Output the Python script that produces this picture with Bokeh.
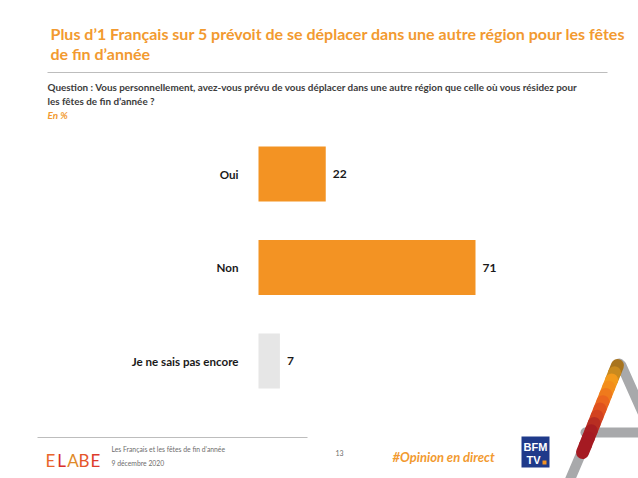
from bokeh.plotting import figure
from bokeh.models import Range1d, ColumnDataSource
from bokeh.core.properties import value
from bokeh.embed import file_html
from bokeh.resources import INLINE

# ---- data ----
categories = ["Oui", "Non", "Je ne sais pas encore"]
values = [22, 71, 7]
bar_colors = ["#F39323", "#F39323", "#E6E6E6"]
value_labels = ["22", "71", "7"]

title_lines = ["Plus d\u20191 Fran\u00e7ais sur 5 pr\u00e9voit de se d\u00e9placer dans une autre r\u00e9gion pour les f\u00eates",
               "de fin d\u2019ann\u00e9e"]
question_lines = ["Question : Vous personnellement, avez-vous pr\u00e9vu de vous d\u00e9placer dans une autre r\u00e9gion que celle o\u00f9 vous r\u00e9sidez pour",
                  "les f\u00eates de fin d\u2019ann\u00e9e ?"]
unit_text = "En %"
footer_lines = ["Les Fran\u00e7ais et les f\u00eates de fin d\u2019ann\u00e9e", "9 d\u00e9cembre 2020"]
page_number = "13"
hashtag = "#Opinion en direct"

W, H = 638, 478
FONT = "Lato"
OFF = 0

# pixel helpers for page decorations (picture coords -> frame coords)
def X(px):
    return px - OFF

def Y(py):
    return py - OFF

p = figure(width=W, height=H, output_backend="svg", toolbar_location=None,
           x_range=Range1d(0, W), y_range=Range1d(H, 0),
           min_border=0, min_border_left=0, min_border_right=0,
           min_border_top=0, min_border_bottom=0)
p.axis.visible = False
p.grid.visible = False
p.outline_line_color = None
p.background_fill_color = "white"
p.border_fill_color = "white"

# data ranges for the bars
k = 217 / 71.0
x0 = -(258 - OFF) / k
p.extra_x_ranges = {"val": Range1d(x0, x0 + W / k)}
step = 93.5
ytop = -(173.5 - OFF) / step
p.extra_y_ranges = {"cat": Range1d(ytop + H / step, ytop)}

ypos = list(range(len(categories)))
src = ColumnDataSource(dict(y=ypos, v=values, c=bar_colors, cat=categories, lab=value_labels,
                            zero=[0] * len(values)))
p.hbar(y="y", left="zero", right="v", height=55 / step, fill_color="c", line_color=None,
       source=src, x_range_name="val", y_range_name="cat")
p.text(x="zero", y="y", text="cat", source=src, x_range_name="val", y_range_name="cat",
       x_offset=-20, text_align="right", text_baseline="middle",
       text_font=value(FONT), text_font_style="bold", text_font_size="11.6px", text_color="#1A1A1A")
p.text(x="v", y="y", text="lab", source=src, x_range_name="val", y_range_name="cat",
       x_offset=7, text_align="left", text_baseline="middle",
       text_font=value(FONT), text_font_style="bold", text_font_size="12px", text_color="#1A1A1A")

# title
p.text(x=[X(50), X(50)], y=[Y(33), Y(53)], text=title_lines, text_font=value(FONT),
       text_font_style="bold", text_font_size="16px", text_color="#F29A30",
       text_baseline="alphabetic")
# separator
p.line(x=[X(47), X(607)], y=[Y(72), Y(72)], line_color="#BDBDBD", line_width=1)
# question
p.text(x=[X(47), X(47)], y=[Y(86), Y(100)], text=question_lines, text_font=value(FONT),
       text_font_style="bold", text_font_size="9.9px", text_color="#3C3C3C",
       text_baseline="alphabetic")
p.text(x=[X(47)], y=[Y(114)], text=[unit_text], text_font=value(FONT),
       text_font_style="bold italic", text_font_size="9.9px", text_color="#F29A30",
       text_baseline="alphabetic")

# footer
p.line(x=[X(37), X(307)], y=[Y(437), Y(437)], line_color="#BDBDBD", line_width=1)
elabe_letters = ["E", "L", "A", "B", "E"]
elabe_colors = ["#E9652B", "#D8302B", "#E08A2A", "#E5562B", "#DD3A2B"]
p.text(x=[X(50 + 11.2 * i) for i in range(5)], y=[Y(460)] * 5, text=elabe_letters,
       text_color=elabe_colors, text_font=value(FONT), text_font_style="normal",
       text_font_size="17px", text_baseline="alphabetic", text_align="center")
p.text(x=[X(111), X(111)], y=[Y(448), Y(462)], text=footer_lines, text_font=value(FONT),
       text_font_size="6.8px", text_color="#6E6E6E", text_baseline="alphabetic")
p.text(x=[X(335)], y=[Y(452)], text=[page_number], text_font=value(FONT),
       text_font_size="7px", text_color="#6E6E6E", text_baseline="alphabetic")
p.text(x=[X(392)], y=[Y(456)], text=[hashtag], text_font=value(FONT),
       text_font_style="bold italic", text_font_size="13px", text_color="#F29A30",
       text_baseline="alphabetic")

# BFM TV logo
p.quad(left=[X(521)], right=[X(549)], top=[Y(436)], bottom=[Y(467)],
       fill_color="#1F3A8A", line_color=None)
p.text(x=[X(535), X(533)], y=[Y(446), Y(459)], text=["BFM", "TV"], text_font=value("Liberation Sans"),
       text_font_style="bold", text_font_size="11px", text_color="white",
       text_align="center", text_baseline="middle")
p.scatter(x=[X(544)], y=[Y(462)], size=4, marker="square", fill_color="#F39323", line_color=None)

# decorative "A" shape
p.multi_line(xs=[[X(619), X(567)], [X(621), X(650)], [X(585), X(650)]],
             ys=[[Y(363), Y(485)], [Y(365), Y(430)], [Y(432), Y(432)]],
             line_color="#A8A9AB", line_width=10, line_cap="round")
grad = ["#A8741E", "#C98A1E", "#F39A1B", "#F38E1B", "#EF7A1C", "#EB661E",
        "#E0521F", "#D24220", "#B82E22", "#A81E22", "#A51A22", "#A51A22"]
n = len(grad)
xa, ya, xb, yb = 617, 365, 582, 452
segx, segy = [], []
for i in range(n):
    t0, t1 = i / n, (i + 1) / n
    segx.append([X(xa + (xb - xa) * t0), X(xa + (xb - xa) * t1)])
    segy.append([Y(ya + (yb - ya) * t0), Y(ya + (yb - ya) * t1)])
p.multi_line(xs=segx, ys=segy, line_color=grad, line_width=13, line_cap="round")

open("out.html", "w").write(file_html(p, INLINE))
